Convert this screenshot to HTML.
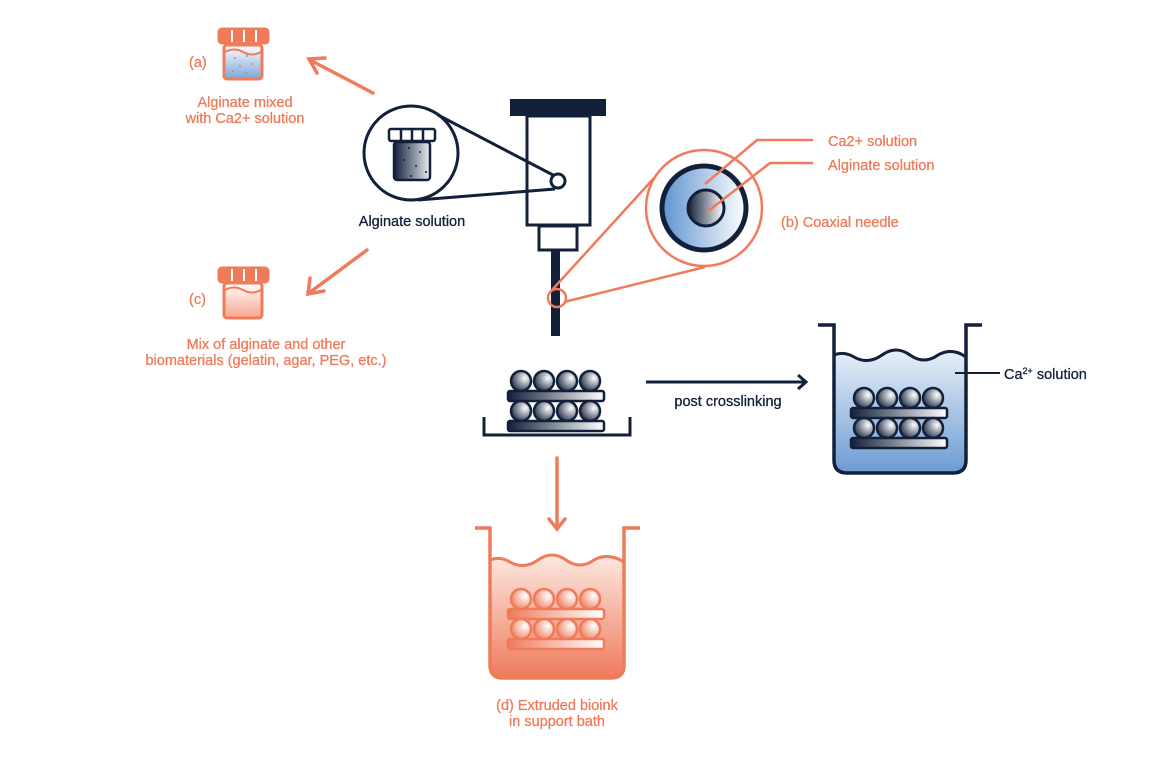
<!DOCTYPE html>
<html><head><meta charset="utf-8"><style>
html,body{margin:0;padding:0;background:#fff;}
svg{display:block;}
text{font-family:"Liberation Sans",sans-serif;font-size:14.5px;stroke-width:0.3px;}
.o{fill:#ef7b5b;stroke:#ef7b5b;} .d{fill:#13203a;stroke:#13203a;}
</style></head><body>
<svg width="1150" height="768" viewBox="0 0 1150 768" xmlns="http://www.w3.org/2000/svg">
<defs>
<linearGradient id="gd" x1="0" x2="1" y1="0" y2="0"><stop offset="0" stop-color="#13203a"/><stop offset="1" stop-color="#fff"/></linearGradient>
<radialGradient id="rd" cx="0.7" cy="0.35" r="0.8"><stop offset="0" stop-color="#fff"/><stop offset="1" stop-color="#13203a"/></radialGradient>
<linearGradient id="go" x1="0" x2="1" y1="0" y2="0"><stop offset="0" stop-color="#ef7b5b"/><stop offset="1" stop-color="#fff"/></linearGradient>
<radialGradient id="ro" cx="0.7" cy="0.35" r="0.8"><stop offset="0" stop-color="#fff"/><stop offset="1" stop-color="#ef7b5b"/></radialGradient>
<linearGradient id="bb" x1="0" x2="0" y1="0" y2="1"><stop offset="0" stop-color="#e8f0f9"/><stop offset="1" stop-color="#6b9bd3"/></linearGradient>
<linearGradient id="ob" x1="0" x2="0" y1="0" y2="1"><stop offset="0" stop-color="#fde8e1"/><stop offset="1" stop-color="#ef7b5b"/></linearGradient>
<linearGradient id="ja" x1="0" x2="0" y1="0" y2="1"><stop offset="0" stop-color="#fff"/><stop offset="1" stop-color="#7aa6da"/></linearGradient>
<linearGradient id="jc" x1="0" x2="0" y1="0" y2="1"><stop offset="0" stop-color="#fff"/><stop offset="1" stop-color="#f6a58e"/></linearGradient>
<linearGradient id="jd" x1="0" x2="1" y1="0" y2="0"><stop offset="0" stop-color="#13203a"/><stop offset="1" stop-color="#e8ecf2"/></linearGradient>
<linearGradient id="cxl" x1="0" x2="1"><stop offset="0" stop-color="#5f93d0"/><stop offset="1" stop-color="#fff"/></linearGradient>
<g id="sd" stroke="#13203a" stroke-width="2.5">
<circle cx="11" cy="11" r="10" fill="url(#rd)"/><circle cx="34" cy="11" r="10" fill="url(#rd)"/><circle cx="57" cy="11" r="10" fill="url(#rd)"/><circle cx="80" cy="11" r="10" fill="url(#rd)"/>
<rect x="-2" y="21" width="96" height="10" rx="2" fill="url(#gd)"/>
<circle cx="11" cy="41" r="10" fill="url(#rd)"/><circle cx="34" cy="41" r="10" fill="url(#rd)"/><circle cx="57" cy="41" r="10" fill="url(#rd)"/><circle cx="80" cy="41" r="10" fill="url(#rd)"/>
<rect x="-2" y="51" width="96" height="10" rx="2" fill="url(#gd)"/>
</g>
<g id="so" stroke="#ef7b5b" stroke-width="2.5">
<circle cx="11" cy="11" r="10" fill="url(#ro)"/><circle cx="34" cy="11" r="10" fill="url(#ro)"/><circle cx="57" cy="11" r="10" fill="url(#ro)"/><circle cx="80" cy="11" r="10" fill="url(#ro)"/>
<rect x="-2" y="21" width="96" height="10" rx="2" fill="url(#go)"/>
<circle cx="11" cy="41" r="10" fill="url(#ro)"/><circle cx="34" cy="41" r="10" fill="url(#ro)"/><circle cx="57" cy="41" r="10" fill="url(#ro)"/><circle cx="80" cy="41" r="10" fill="url(#ro)"/>
<rect x="-2" y="51" width="96" height="10" rx="2" fill="url(#go)"/>
</g>
</defs>

<g stroke="#ef7b5b" stroke-width="3">
<rect x="224" y="45" width="38" height="34" rx="3" fill="url(#ja)"/>
<path d="M225 52 q9 -5 18 0 t18 0" fill="none" stroke-width="2"/>
<rect x="219" y="29" width="49" height="14" rx="3" fill="#ef7b5b"/>
</g>
<g stroke="#fff" stroke-width="2"><line x1="232" y1="30" x2="232" y2="42"/><line x1="244" y1="30" x2="244" y2="42"/><line x1="256" y1="30" x2="256" y2="42"/></g>
<g fill="#ef7b5b"><circle cx="235" cy="58" r="1"/><circle cx="247" cy="56" r="1"/><circle cx="240" cy="66" r="1"/><circle cx="252" cy="64" r="1"/><circle cx="233" cy="71" r="1"/><circle cx="246" cy="73" r="1"/></g>
<text x="189" y="67" class="o">(a)</text>
<text x="245" y="107" class="o" text-anchor="middle">Alginate mixed</text>
<text x="245" y="123" class="o" text-anchor="middle">with Ca2+ solution</text>

<g stroke="#ef7b5b" stroke-width="3">
<rect x="224" y="283" width="38" height="35" rx="3" fill="url(#jc)"/>
<path d="M225 290 q9 -5 18 0 t18 0" fill="none" stroke-width="2"/>
<rect x="219" y="268" width="49" height="14" rx="3" fill="#ef7b5b"/>
</g>
<g stroke="#fff" stroke-width="2"><line x1="232" y1="269" x2="232" y2="281"/><line x1="244" y1="269" x2="244" y2="281"/><line x1="256" y1="269" x2="256" y2="281"/></g>
<text x="189" y="304" class="o">(c)</text>
<text x="266" y="349" class="o" text-anchor="middle">Mix of alginate and other</text>
<text x="266" y="365" class="o" text-anchor="middle">biomaterials (gelatin, agar, PEG, etc.)</text>

<g stroke="#ef7b5b" stroke-width="3.5" fill="none" stroke-linecap="round">
<line x1="373" y1="93" x2="310" y2="60"/><path d="M325 58 L309 59 L317 73"/>
<line x1="367" y1="250" x2="309" y2="293"/><path d="M310 278 L308 294 L324 291"/>
<line x1="557" y1="458" x2="557" y2="528"/><path d="M549 519 L557 529 L565 519"/>
</g>

<g stroke="#13203a" stroke-width="3" fill="#fff">
<circle cx="411" cy="153" r="47"/>
<rect x="527" y="116" width="63" height="109"/>
<rect x="539" y="226" width="38" height="24"/>
</g>
<g stroke="#13203a" stroke-width="3" fill="none">
<line x1="438" y1="115" x2="553" y2="175"/>
<line x1="418" y1="200" x2="555" y2="189"/>
</g>
<circle cx="558" cy="181" r="7" fill="#fff" stroke="#13203a" stroke-width="3"/>
<rect x="510" y="99" width="96" height="17" fill="#13203a"/>
<rect x="551" y="250" width="9" height="86" fill="#13203a"/>
<g stroke="#13203a" stroke-width="2.5">
<rect x="394" y="142" width="36" height="38" rx="3" fill="url(#jd)"/>
<rect x="389" y="129" width="46" height="12" rx="2" fill="#fff"/>
<line x1="401" y1="129" x2="401" y2="141"/><line x1="412" y1="129" x2="412" y2="141"/><line x1="423" y1="129" x2="423" y2="141"/>
</g>
<g fill="#13203a"><circle cx="409" cy="148" r="1"/><circle cx="420" cy="152" r="1"/><circle cx="404" cy="160" r="1"/><circle cx="416" cy="166" r="1"/><circle cx="426" cy="172" r="1"/><circle cx="411" cy="176" r="1"/></g>
<text x="412" y="226" class="d" text-anchor="middle">Alginate solution</text>

<g stroke="#ef7b5b" stroke-width="2.5" fill="none">
<line x1="552" y1="290" x2="654" y2="178"/>
<line x1="564" y1="302" x2="705" y2="267"/>
<circle cx="557" cy="298" r="9"/>
<circle cx="704" cy="208" r="58" fill="#fff"/>
</g>
<circle cx="704" cy="208" r="42" fill="url(#cxl)" stroke="#13203a" stroke-width="5"/>
<circle cx="706" cy="208" r="18" fill="url(#gd)" stroke="#13203a" stroke-width="3"/>
<g stroke="#ef7b5b" stroke-width="2.5" fill="none">
<polyline points="705,184 757,140 813,140"/>
<polyline points="707,212 770,163 813,163"/>
</g>
<text x="828" y="146" class="o">Ca2+ solution</text>
<text x="828" y="170" class="o">Alginate solution</text>
<text x="781" y="227" class="o">(b) Coaxial needle</text>

<use href="#sd" x="510" y="370"/>
<polyline points="484,417 484,435 630,435 630,417" fill="none" stroke="#13203a" stroke-width="3"/>

<g stroke="#13203a" stroke-width="3" fill="none"><line x1="646" y1="382" x2="806" y2="382"/><path d="M798 375 L806 382 L798 389"/></g>
<text x="728" y="406" class="d" text-anchor="middle">post crosslinking</text>

<path d="M834 355 q10 -4 20 2 q14 8 28 -2 q14 -10 28 0 q14 10 28 0 q14 -8 28 2 L966 460 q0 13 -13 13 L847 473 q-13 0 -13 -13 Z" fill="url(#bb)"/>
<path d="M834 355 q10 -4 20 2 q14 8 28 -2 q14 -10 28 0 q14 10 28 0 q14 -8 28 2" fill="none" stroke="#13203a" stroke-width="3"/>
<path d="M818 325 L834 325 L834 460 q0 13 13 13 L953 473 q13 0 13 -13 L966 325 L982 325" fill="none" stroke="#13203a" stroke-width="3.5"/>
<use href="#sd" x="853" y="387"/>
<line x1="955" y1="373" x2="1000" y2="373" stroke="#13203a" stroke-width="2"/>
<text x="1004" y="379" class="d">Ca<tspan font-size="9" dy="-5">2+</tspan><tspan dy="5"> solution</tspan></text>

<path d="M490 560 q10 -4 20 2 q14 8 28 -2 q14 -10 28 0 q14 10 28 0 q14 -8 30 2 L624 665 q0 13 -13 13 L503 678 q-13 0 -13 -13 Z" fill="url(#ob)"/>
<path d="M490 560 q10 -4 20 2 q14 8 28 -2 q14 -10 28 0 q14 10 28 0 q14 -8 30 2" fill="none" stroke="#ef7b5b" stroke-width="3"/>
<path d="M475 528 L490 528 L490 665 q0 13 13 13 L611 678 q13 0 13 -13 L624 528 L640 528" fill="none" stroke="#ef7b5b" stroke-width="3.5"/>
<use href="#so" x="510" y="588"/>
<text x="557" y="710" class="o" text-anchor="middle">(d) Extruded bioink</text>
<text x="557" y="726" class="o" text-anchor="middle">in support bath</text>
</svg>
</body></html>
